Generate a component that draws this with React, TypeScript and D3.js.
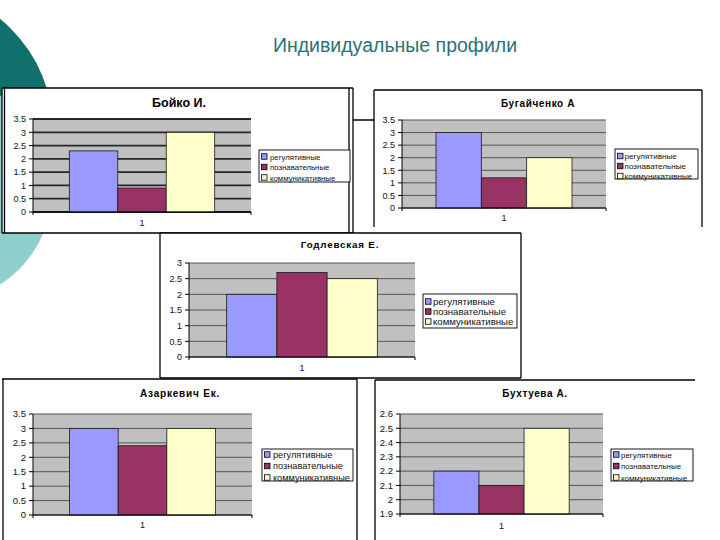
import React from "react";
import * as d3 from "d3";

const pageTitle = "Индивидуальные профили";
const students = ["Бойко И.", "Бугайченко А", "Годлевская Е.", "Азаркевич Ек.", "Бухтуева А."];
const categories = ["1"];
const seriesNames = ["регулятивные", "познавательные", "коммуникативные"];
const regulative = [2.3, 3.0, 2.0, 3.0, 2.2];
const cognitive = [0.9, 1.2, 2.7, 2.4, 2.1];
const communicative = [3.0, 2.0, 2.5, 3.0, 2.5];
const yMin = [0, 0, 0, 0, 1.9];
const yMax = [3.5, 3.5, 3, 3.5, 2.6];
const tickLabels = [
  ["0", "0.5", "1", "1.5", "2", "2.5", "3", "3.5"],
  ["0", "0.5", "1", "1.5", "2", "2.5", "3", "3.5"],
  ["0", "0.5", "1", "1.5", "2", "2.5", "3"],
  ["0", "0.5", "1", "1.5", "2", "2.5", "3", "3.5"],
  ["1.9", "2", "2.1", "2.2", "2.3", "2.4", "2.5", "2.6"],
];

const seriesColors = ["#9999ff", "#993366", "#ffffcc"];

type Layout = {
  fill: { x: number; y: number; w: number; h: number };
  lines: [number, number, number, number][];
  plot: { l: number; r: number; t: number; b: number };
  title: { x: number; y: number; size: number; ls: number };
  legend: { x: number; y: number; w: number; h: number; size: number; first: number; gap: number; tx: number };
  catY: number;
  tickSize: number;
  grid: { color: string; w: number };
};

const layouts: Layout[] = [
  {
    fill: { x: 2, y: 88, w: 352, h: 145 },
    lines: [
      [2, 88, 353, 88],
      [2, 88, 2, 233],
      [4.5, 88, 4.5, 233],
      [349, 88, 349, 233],
      [353, 88, 353, 233],
      [2, 233, 353, 233],
    ],
    plot: { l: 33, r: 251, t: 119, b: 212 },
    title: { x: 179, y: 106.5, size: 12.5, ls: 0 },
    legend: { x: 259, y: 150, w: 91, h: 32, size: 7.8, first: 6.5, gap: 10.5, tx: 11 },
    catY: 226,
    tickSize: 9,
    grid: { color: "#262626", w: 1.8 },
  },
  {
    fill: { x: 374, y: 90, w: 328, h: 137 },
    lines: [
      [374, 90, 702, 90],
      [374, 90, 374, 227],
      [702, 90, 702, 227],
    ],
    plot: { l: 402, r: 606, t: 120, b: 208 },
    title: { x: 538, y: 106.5, size: 10, ls: 0.6 },
    legend: { x: 615, y: 149, w: 83, h: 30, size: 8.1, first: 7, gap: 10, tx: 9.5 },
    catY: 221,
    tickSize: 9,
    grid: { color: "#555", w: 1 },
  },
  {
    fill: { x: 160, y: 233, w: 361, h: 145 },
    lines: [
      [160, 233, 521, 233],
      [160, 233, 160, 378],
      [521, 233, 521, 378],
      [160, 378, 521, 378],
    ],
    plot: { l: 189, r: 415, t: 263, b: 357 },
    title: { x: 340, y: 247.5, size: 9.8, ls: 0.8 },
    legend: { x: 423, y: 294, w: 94, h: 34, size: 9.6, first: 7.5, gap: 10, tx: 10 },
    catY: 371,
    tickSize: 9,
    grid: { color: "#555", w: 1 },
  },
  {
    fill: { x: 3, y: 379, w: 354, h: 161 },
    lines: [
      [2, 379, 357, 379],
      [3, 379, 3, 540],
      [357, 379, 357, 540],
    ],
    plot: { l: 33, r: 252, t: 414, b: 515 },
    title: { x: 180, y: 396.5, size: 10, ls: 0.8 },
    legend: { x: 262, y: 449, w: 91, h: 32, size: 9.2, first: 5.5, gap: 11.5, tx: 11 },
    catY: 528,
    tickSize: 9.5,
    grid: { color: "#555", w: 1 },
  },
  {
    fill: { x: 375, y: 380, w: 320, h: 160 },
    lines: [
      [375, 380, 695, 380],
      [375, 380, 375, 540],
    ],
    plot: { l: 400, r: 603, t: 414, b: 514 },
    title: { x: 535, y: 396.5, size: 10, ls: 0.6 },
    legend: { x: 611, y: 449, w: 82, h: 32, size: 7.9, first: 5.5, gap: 11.5, tx: 10 },
    catY: 529,
    tickSize: 9.5,
    grid: { color: "#555", w: 1 },
  },
];

const FONT = "Liberation Sans, Arial, sans-serif";

function Chart({ i }: { i: number }) {
  const L = layouts[i];
  const p = L.plot;
  const values = [regulative[i], cognitive[i], communicative[i]];
  const y = d3.scaleLinear().domain([yMin[i], yMax[i]]).range([p.b, p.t]);
  const xCat = d3.scaleBand().domain(categories).range([p.l, p.r]).paddingInner(0).paddingOuter(0.25);
  const xSer = d3.scaleBand().domain(seriesNames).range([0, xCat.bandwidth()]).padding(0);
  const ticks = tickLabels[i];
  return (
    <g>
      <rect x={L.fill.x} y={L.fill.y} width={L.fill.w} height={L.fill.h} fill="#fff" />
      {L.lines.map((ln, k) => (
        <line key={k} x1={ln[0]} y1={ln[1]} x2={ln[2]} y2={ln[3]} stroke="#000" strokeWidth={1.3} />
      ))}
      <text
        x={L.title.x}
        y={L.title.y}
        textAnchor="middle"
        fontFamily={FONT}
        fontWeight="bold"
        fontSize={L.title.size}
        letterSpacing={L.title.ls}
      >
        {students[i]}
      </text>
      <rect x={p.l} y={p.t} width={p.r - p.l} height={p.b - p.t} fill="#c0c0c0" />
      {ticks.map((t) => (
        <line
          key={"g" + t}
          x1={p.l}
          x2={p.r}
          y1={y(+t)}
          y2={y(+t)}
          stroke={L.grid.color}
          strokeWidth={L.grid.w}
        />
      ))}
      {categories.map((c) =>
        seriesNames.map((s, k) => {
          const x0 = (xCat(c) as number) + (xSer(s) as number);
          return (
            <rect
              key={c + s}
              x={x0}
              y={y(values[k])}
              width={xSer.bandwidth()}
              height={p.b - y(values[k])}
              fill={seriesColors[k]}
              stroke="#1a1a1a"
              strokeWidth={0.8}
            />
          );
        })
      )}
      <line x1={p.l} x2={p.l} y1={p.t} y2={p.b} stroke="#000" strokeWidth={1} />
      <line x1={p.l} x2={p.r} y1={p.b} y2={p.b} stroke="#000" strokeWidth={1} />
      <line x1={p.l} x2={p.l} y1={p.b} y2={p.b + 3} stroke="#000" strokeWidth={1} />
      <line x1={p.r} x2={p.r} y1={p.b} y2={p.b + 3} stroke="#000" strokeWidth={1} />
      {ticks.map((t) => (
        <g key={"t" + t}>
          <line x1={p.l - 4} x2={p.l} y1={y(+t)} y2={y(+t)} stroke="#000" strokeWidth={1} />
          <text
            x={p.l - 7}
            y={y(+t) + 3.3}
            textAnchor="end"
            fontFamily={FONT}
            fontSize={L.tickSize}
            fill="#111"
          >
            {t}
          </text>
        </g>
      ))}
      {categories.map((c) => (
        <text
          key={"c" + c}
          x={(xCat(c) as number) + xCat.bandwidth() / 2}
          y={L.catY}
          textAnchor="middle"
          fontFamily={FONT}
          fontSize={9}
          fill="#111"
        >
          {c}
        </text>
      ))}
      <rect
        x={L.legend.x}
        y={L.legend.y}
        width={L.legend.w}
        height={L.legend.h}
        fill="#fff"
        stroke="#000"
        strokeWidth={0.9}
      />
      {seriesNames.map((s, k) => {
        const cy = L.legend.y + L.legend.first + k * L.legend.gap;
        return (
          <g key={"l" + s}>
            <rect
              x={L.legend.x + 2.5}
              y={cy - 2.75}
              width={5.5}
              height={5.5}
              fill={seriesColors[k]}
              stroke="#000"
              strokeWidth={0.8}
            />
            <text
              x={L.legend.x + L.legend.tx}
              y={cy + 3}
              fontFamily={FONT}
              fontSize={L.legend.size}
              fill="#111"
            >
              {s}
            </text>
          </g>
        );
      })}
    </g>
  );
}

export default function App() {
  return (
    <svg
      width={720}
      height={540}
      style={{ position: "absolute", left: 0, top: 0, background: "#fff" }}
    >
      <rect x={0} y={0} width={720} height={540} fill="#fff" />
      <circle cx={-90} cy={130} r={143} fill="#11706c" />
      <circle cx={-60} cy={190} r={112} fill="#8fd0cc" />
      <text
        x={395}
        y={52}
        textAnchor="middle"
        fontFamily={FONT}
        fontSize={19.5}
        fill="#2b7274"
      >
        {pageTitle}
      </text>
      <Chart i={0} />
      <Chart i={1} />
      <line x1={353} y1={120} x2={374} y2={120} stroke="#000" strokeWidth={1.5} />
      <Chart i={2} />
      <Chart i={3} />
      <Chart i={4} />
    </svg>
  );
}
